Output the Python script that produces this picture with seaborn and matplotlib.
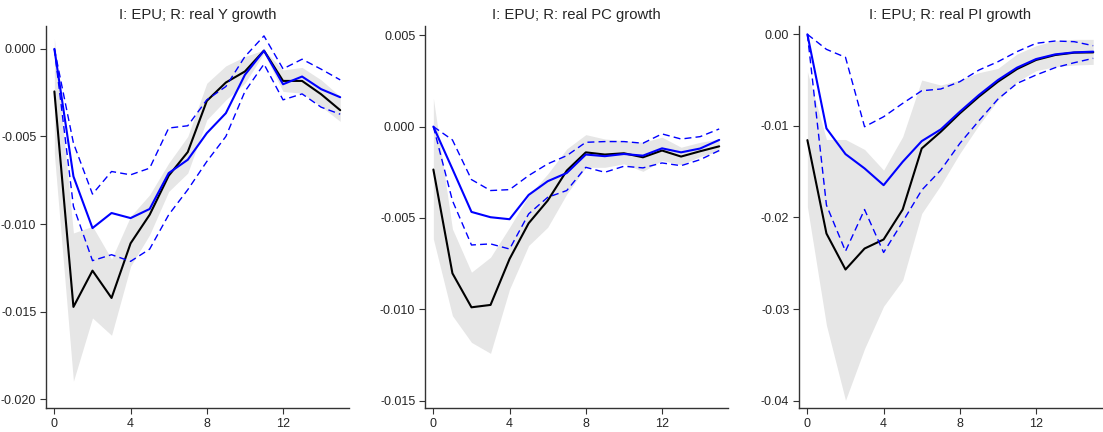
import numpy as np
import matplotlib
matplotlib.use('Agg')
import matplotlib.pyplot as plt
import pandas as pd
import seaborn as sns

horizon = list(range(16))

titles = ['I: EPU; R: real Y growth', 'I: EPU; R: real PC growth', 'I: EPU; R: real PI growth']

# panel 1: real Y growth
y_point = [-0.00243, -0.01473, -0.01266, -0.01422, -0.0111, -0.00947, -0.00724, -0.00589,
           -0.00297, -0.00192, -0.00129, -0.0001, -0.00183, -0.00183, -0.00259, -0.0035]
y_band_hi = [0.0006, -0.01051, -0.01013, -0.012, -0.00956, -0.00833, -0.00652, -0.005,
             -0.00196, -0.00097, -0.00044, -0.00006, -0.0012, -0.00106, -0.00177, -0.00272]
y_band_lo = [-0.006, -0.01897, -0.01536, -0.01635, -0.01241, -0.01061, -0.00814, -0.00709,
             -0.00405, -0.00291, -0.00196, -0.00025, -0.00243, -0.00253, -0.00329, -0.00414]
y_blue = [0.0, -0.00728, -0.01023, -0.00937, -0.00966, -0.00914, -0.00709, -0.00633,
          -0.00481, -0.00367, -0.00148, -0.0001, -0.00202, -0.00158, -0.0023, -0.00276]
y_blue_hi = [0.0, -0.00538, -0.00829, -0.007, -0.00719, -0.00681, -0.00452, -0.00439,
             -0.00291, -0.00215, -0.00044, 0.00074, -0.00114, -0.00059, -0.00116, -0.00177]
y_blue_lo = [0.0, -0.00899, -0.01209, -0.01175, -0.01213, -0.01143, -0.00947, -0.00804,
             -0.00643, -0.005, -0.00243, -0.00087, -0.00291, -0.00257, -0.00333, -0.00373]

# panel 2: real PC growth
pc_point = [-0.00235, -0.00803, -0.00989, -0.00976, -0.00724, -0.00529, -0.00405, -0.00241,
            -0.00141, -0.00153, -0.00146, -0.00168, -0.00131, -0.00164, -0.00135, -0.00108]
pc_band_hi = [0.00155, -0.0056, -0.00797, -0.00715, -0.00551, -0.00378, -0.00259, -0.00122,
              -0.00044, -0.00068, -0.00077, -0.00086, -0.00058, -0.00113, -0.00086, -0.00068]
pc_band_lo = [-0.00615, -0.01035, -0.01181, -0.01241, -0.00889, -0.00651, -0.00551, -0.00369,
              -0.00223, -0.00223, -0.00204, -0.00245, -0.00186, -0.00208, -0.00164, -0.00135]
pc_blue = [0.0, -0.00232, -0.00467, -0.00496, -0.00507, -0.00374, -0.00299, -0.00254,
           -0.00153, -0.00162, -0.0015, -0.00159, -0.00119, -0.00141, -0.0012, -0.00073]
pc_blue_hi = [0.0, -0.00073, -0.0029, -0.0035, -0.00345, -0.00268, -0.00204, -0.00159,
              -0.00086, -0.00082, -0.00082, -0.00091, -0.0004, -0.00068, -0.00055, -0.00013]
pc_blue_lo = [0.0, -0.00405, -0.00648, -0.00642, -0.0067, -0.00478, -0.00387, -0.0035,
              -0.00223, -0.0025, -0.00217, -0.00226, -0.00199, -0.00214, -0.00181, -0.00131]

# panel 3: real PI growth
pi_point = [-0.01155, -0.02175, -0.02568, -0.02339, -0.0224, -0.01913, -0.01246, -0.01064,
            -0.00863, -0.00681, -0.00517, -0.00379, -0.0028, -0.00226, -0.002, -0.00197]
pi_band_hi = [-0.00408, -0.01148, -0.01148, -0.01257, -0.01483, -0.01118, -0.00499, -0.00554,
              -0.00499, -0.00419, -0.00372, -0.00215, -0.00124, -0.00069, -0.00055, -0.00055]
pi_band_lo = [-0.01883, -0.03177, -0.03996, -0.03432, -0.02969, -0.02685, -0.01956, -0.01647,
              -0.013, -0.00991, -0.00718, -0.00517, -0.00397, -0.00353, -0.00335, -0.00328]
pi_blue = [0.0, -0.01027, -0.01308, -0.01464, -0.01647, -0.01392, -0.01166, -0.01038,
           -0.00845, -0.00663, -0.00499, -0.00364, -0.0027, -0.00219, -0.00197, -0.00189]
pi_blue_hi = [0.0, -0.00164, -0.00251, -0.01009, -0.009, -0.00754, -0.00616, -0.00597,
              -0.00517, -0.0039, -0.00299, -0.00189, -0.00098, -0.00073, -0.0008, -0.00124]
pi_blue_lo = [0.0, -0.01865, -0.02368, -0.01913, -0.02382, -0.02047, -0.01701, -0.01483,
              -0.01191, -0.00944, -0.00707, -0.00536, -0.00444, -0.00364, -0.0031, -0.00262]

panels = [
    (y_point, y_band_lo, y_band_hi, y_blue, y_blue_lo, y_blue_hi, (-0.0205, 0.0013), [0.0, -0.005, -0.01, -0.015, -0.02], '%.3f'),
    (pc_point, pc_band_lo, pc_band_hi, pc_blue, pc_blue_lo, pc_blue_hi, (-0.0154, 0.0055), [0.005, 0.0, -0.005, -0.01, -0.015], '%.3f'),
    (pi_point, pi_band_lo, pi_band_hi, pi_blue, pi_blue_lo, pi_blue_hi, (-0.0408, 0.0009), [0.0, -0.01, -0.02, -0.03, -0.04], '%.2f'),
]

sns.set_style('ticks')
plt.rcParams['font.family'] = ['Liberation Sans', 'DejaVu Sans']

fig = plt.figure(figsize=(11.03, 4.32), dpi=100)
lefts = [0.0417, 0.3853, 0.7244]

for i, (pt, blo, bhi, bl, bllo, blhi, ylim, yticks, fmt) in enumerate(panels):
    ax = fig.add_axes([lefts[i], 0.0556, 0.2745, 0.884])
    df = pd.DataFrame({'h': horizon, 'point': pt, 'lo': blo, 'hi': bhi,
                       'blue': bl, 'blue_lo': bllo, 'blue_hi': blhi})
    ax.fill_between(df['h'], df['lo'], df['hi'], color='#e6e6e6', linewidth=0)
    sns.lineplot(data=df, x='h', y='point', color='black', linewidth=1.5, ax=ax)
    sns.lineplot(data=df, x='h', y='blue', color='#0000ff', linewidth=1.5, ax=ax)
    sns.lineplot(data=df, x='h', y='blue_hi', color='#0000ff', linewidth=1.0, ax=ax)
    sns.lineplot(data=df, x='h', y='blue_lo', color='#0000ff', linewidth=1.0, ax=ax)
    for ln in ax.lines[2:]:
        ln.set_dashes([5, 3])
    ax.set_xlim(-0.44, 15.45)
    ax.set_ylim(*ylim)
    ax.set_xticks([0, 4, 8, 12])
    ax.set_yticks(yticks)
    ax.set_yticklabels([fmt % v for v in yticks])
    ax.set_xlabel('')
    ax.set_ylabel('')
    ax.set_title(titles[i], fontsize=10.75, pad=5)
    ax.tick_params(labelsize=9, length=4, width=0.8, color='#333333', pad=3)
    for s in ['left', 'bottom']:
        ax.spines[s].set_color('#333333')
        ax.spines[s].set_linewidth(1.0)
    sns.despine(ax=ax)

fig.savefig('out.png', dpi=100)
